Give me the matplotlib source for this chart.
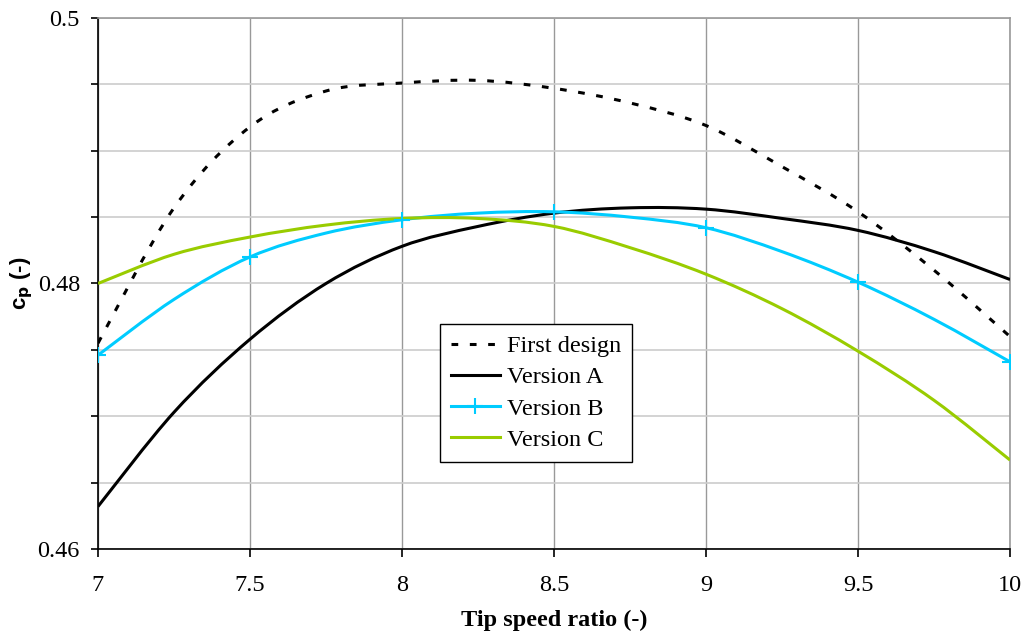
import numpy as np
import matplotlib
matplotlib.use('Agg')
import matplotlib.pyplot as plt
from matplotlib.path import Path
from matplotlib.patches import PathPatch
from matplotlib.lines import Line2D
from matplotlib.ticker import MultipleLocator, FixedLocator, FuncFormatter

# Tip speed ratio
tsr = [7.0, 7.25, 7.5, 7.75, 8.0, 8.25, 8.5, 8.75, 9.0, 9.25, 9.5, 9.75, 10.0]

# cp values
cp_first = [0.4755, 0.4857, 0.4918, 0.4945, 0.4951, 0.4953, 0.4947, 0.4936, 0.4919, 0.4888, 0.4854, 0.4810, 0.4760]
cp_a = [0.4632, 0.4703, 0.4758, 0.4800, 0.4828, 0.4843, 0.4853, 0.4857, 0.4856, 0.4849, 0.4840, 0.4824, 0.4803]
cp_b = [0.4746, 0.4788, 0.4820, 0.4838, 0.4848, 0.4853, 0.4854, 0.4850, 0.4842, 0.4824, 0.4801, 0.4773, 0.4741]
cp_c = [0.4800, 0.4822, 0.4835, 0.4844, 0.4849, 0.4849, 0.4843, 0.4827, 0.4807, 0.4781, 0.4749, 0.4712, 0.4667]

serif = 'Liberation Serif'
fs = 17.5


def smooth_path(x, y):
    # smoothed line like a spreadsheet chart: cubic Bezier segments through the points
    x = np.asarray(x, float)
    y = np.asarray(y, float)
    verts = [(x[0], y[0])]
    codes = [Path.MOVETO]
    n = len(x)
    for i in range(n - 1):
        i0 = max(i - 1, 0)
        i3 = min(i + 2, n - 1)
        c1 = (x[i] + (x[i + 1] - x[i0]) / 6, y[i] + (y[i + 1] - y[i0]) / 6)
        c2 = (x[i + 1] - (x[i3] - x[i]) / 6, y[i + 1] - (y[i3] - y[i]) / 6)
        verts += [c1, c2, (x[i + 1], y[i + 1])]
        codes += [Path.CURVE4] * 3
    return Path(verts, codes)


fig = plt.figure(figsize=(10.25, 6.38), dpi=100)
ax = fig.add_axes([0.0956, 0.1395, 0.8898, 0.8323])

styles = [
    (cp_first, dict(color='black', lw=2.2, linestyle=(0, (2.2, 3.8))), 'First design'),
    (cp_a, dict(color='black', lw=2.2), 'Version A'),
    (cp_b, dict(color='#00CCFF', lw=2.2), 'Version B'),
    (cp_c, dict(color='#99CC00', lw=2.2), 'Version C'),
]
handles = []
for vals, st, lab in styles:
    ax.add_patch(PathPatch(smooth_path(tsr, vals), fill=False, zorder=3, capstyle='butt', **st))
    handles.append(Line2D([0, 1], [0, 0], **st, label=lab))

# Version B markers at every 0.5
ax.plot(tsr[::2], cp_b[::2], linestyle='none', marker='+', color='#00CCFF', markersize=11, mew=1.5, zorder=4)
handles[2].set_data([0, 0.5, 1], [0, 0, 0])
handles[2].set_marker('+')
handles[2].set_markersize(11)
handles[2].set_markeredgewidth(1.5)
handles[2].set_markevery([1])

ax.set_xlim(7, 10)
ax.set_ylim(0.46, 0.5)
ax.xaxis.set_major_locator(MultipleLocator(0.5))
ax.yaxis.set_major_locator(FixedLocator(np.arange(0.46, 0.5001, 0.005)))
ax.yaxis.set_major_formatter(FuncFormatter(
    lambda v, p: ('%g' % round(v, 3)) if abs(round(v * 100) - v * 100) < 1e-6 and round(v * 100) % 2 == 0 else ''))
ax.xaxis.set_major_formatter(FuncFormatter(lambda v, p: '%g' % v))

ax.grid(axis='x', color='#999999', lw=1)
ax.grid(axis='y', color='#cccccc', lw=1.2)
ax.set_axisbelow(True)

for s in ['top', 'right']:
    ax.spines[s].set_color('#999999')
    ax.spines[s].set_linewidth(1.2)
for s in ['left', 'bottom']:
    ax.spines[s].set_color('black')
    ax.spines[s].set_linewidth(1.2)

ax.tick_params(axis='x', direction='out', length=6, width=1.2, pad=13, labelsize=fs)
ax.tick_params(axis='y', direction='out', length=5, width=1.2, pad=8, labelsize=fs)
for lab in ax.get_xticklabels() + ax.get_yticklabels():
    lab.set_fontfamily(serif)

ax.set_xlabel('Tip speed ratio (-)', fontfamily=serif, fontweight='bold', fontsize=fs, labelpad=10)
ax.set_ylabel(r'c$_\mathbf{p}$ (-)', fontfamily='Liberation Sans', fontweight='bold', fontsize=16, labelpad=2)

leg = ax.legend(handles=handles, loc='lower left', bbox_to_anchor=(0.375, 0.164), prop={'family': serif, 'size': fs},
                frameon=True, fancybox=False, edgecolor='black', framealpha=1,
                handlelength=2.0, handletextpad=0.3, labelspacing=0.38, borderpad=0.45, borderaxespad=0)
leg.get_frame().set_linewidth(1.0)

plt.savefig('out.png', dpi=100)
